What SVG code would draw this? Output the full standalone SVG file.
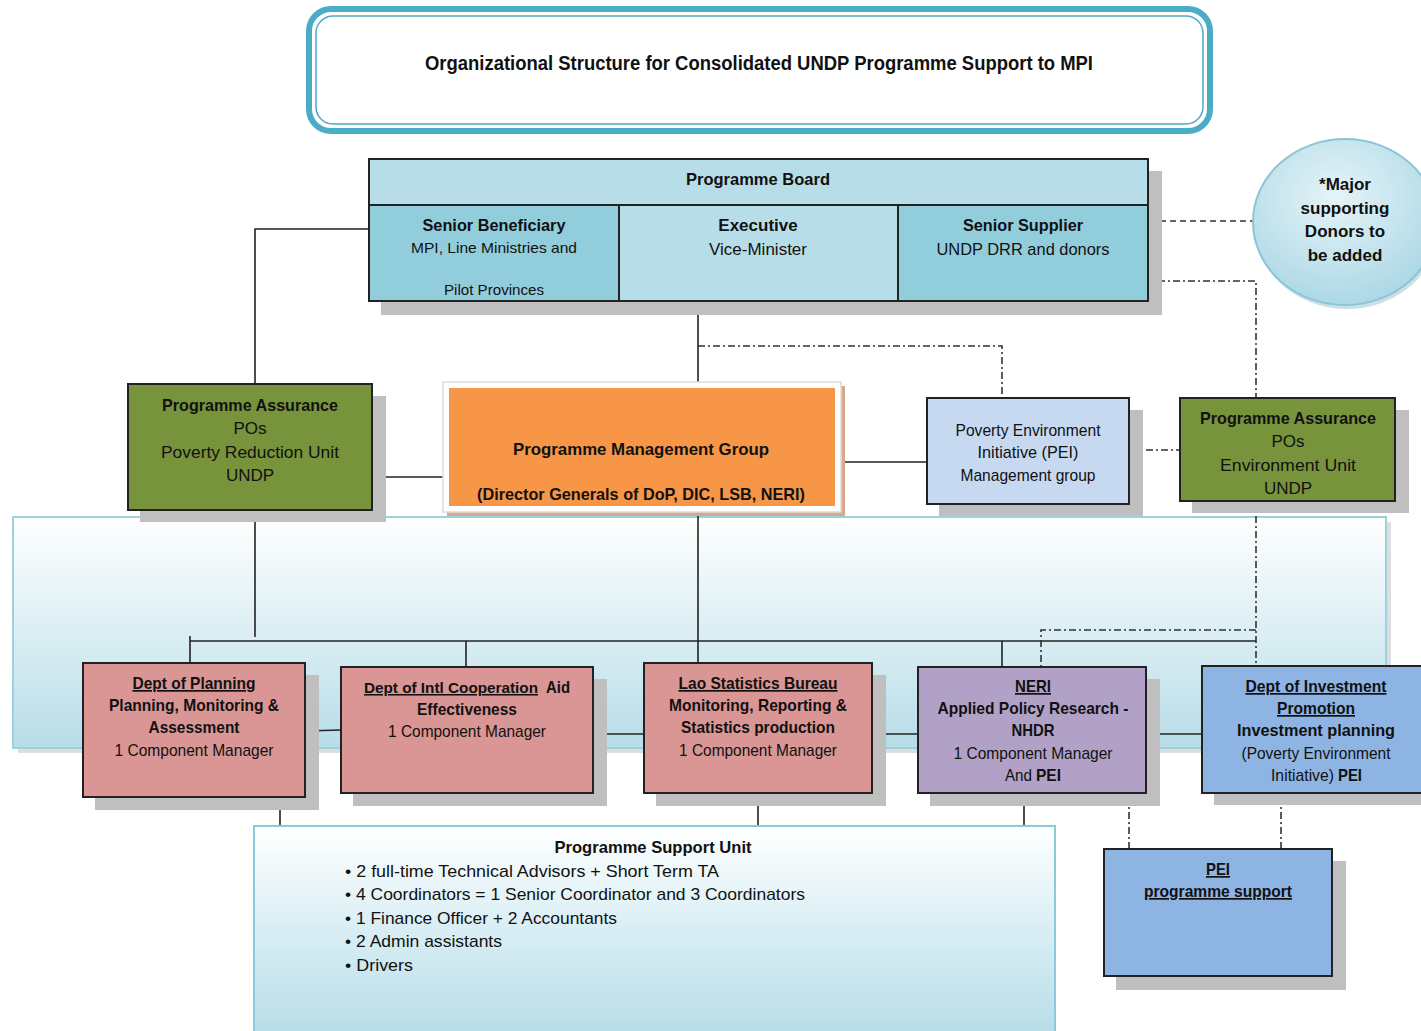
<svg xmlns="http://www.w3.org/2000/svg" width="1421" height="1031" viewBox="0 0 1421 1031">
<defs>
<linearGradient id="panel" x1="0" y1="0" x2="0" y2="1"><stop offset="0" stop-color="#ffffff"/><stop offset="1" stop-color="#b7dde8"/></linearGradient>
<linearGradient id="psu" x1="0" y1="0" x2="0" y2="1"><stop offset="0" stop-color="#ffffff"/><stop offset="0.5" stop-color="#d8eef4"/><stop offset="1" stop-color="#b7dde8"/></linearGradient>
<radialGradient id="circ" cx="0.45" cy="0.35" r="0.7"><stop offset="0" stop-color="#e6f4f8"/><stop offset="1" stop-color="#a8d6e4"/></radialGradient>
<style>
text{font-family:"Liberation Sans Narrow","Liberation Sans",Arial,sans-serif;fill:#111;text-anchor:middle}
.b{font-weight:bold}
.u{text-decoration:underline}
.t16{font-size:16px}
.t17{font-size:17px}
.l{text-anchor:start}
.box{stroke:#222;stroke-width:2}
.sh{fill:#bfbfbf}
.ln{stroke:#222;stroke-width:1.6;fill:none}
.dd{stroke:#333;stroke-width:1.6;fill:none;stroke-dasharray:7 3 2 3}
.ds{stroke:#333;stroke-width:1.6;fill:none;stroke-dasharray:6 4}
</style>
</defs>
<rect width="1421" height="1031" fill="#ffffff"/>

<!-- Background panel -->
<g id="panel-bg">
<rect x="18" y="522" width="1373" height="231" fill="#c8c8c8" opacity="0.6"/>
<rect x="13" y="517" width="1373" height="231" fill="url(#panel)" stroke="#9fd0de" stroke-width="2"/>
</g>

<!-- Title -->
<g id="title">
<rect x="309" y="9" width="901" height="122" rx="22" fill="#ffffff" stroke="#4bacc6" stroke-width="6"/>
<rect x="316" y="16" width="887" height="108" rx="17" fill="none" stroke="#4bacc6" stroke-width="1.5"/>
<text x="759" y="70" class="b" style="font-size:20px" textLength="668" lengthAdjust="spacingAndGlyphs">Organizational Structure for Consolidated UNDP Programme Support to MPI</text>
</g>

<!-- Connectors -->
<g id="connectors">
<polyline class="ln" points="369,229 255,229 255,384"/>
<line class="ln" x1="255" y1="510" x2="255" y2="637"/>
<line class="ln" x1="698" y1="301" x2="698" y2="382"/>
<line class="ln" x1="698" y1="512" x2="698" y2="663"/>
<line class="ln" x1="372" y1="477" x2="443" y2="477"/>
<line class="ln" x1="838" y1="462" x2="927" y2="462"/>
<line class="ln" x1="190" y1="641" x2="1256" y2="641"/>
<line class="ln" x1="190" y1="636" x2="190" y2="663"/>
<line class="ln" x1="466" y1="641" x2="466" y2="667"/>
<line class="ln" x1="1002" y1="641" x2="1002" y2="667"/>
<line class="ln" x1="305" y1="731" x2="341" y2="730"/>
<line class="ln" x1="593" y1="734" x2="644" y2="734"/>
<line class="ln" x1="872" y1="734" x2="918" y2="734"/>
<line class="ln" x1="1146" y1="734" x2="1202" y2="734"/>
<line class="ln" x1="280" y1="797" x2="280" y2="826"/>
<line class="ln" x1="758" y1="793" x2="758" y2="826"/>
<line class="ln" x1="1024" y1="793" x2="1024" y2="826"/>
<polyline class="dd" points="698,346 1002,346 1002,397"/>
<line class="ds" x1="1150" y1="221" x2="1253" y2="221"/>
<polyline class="dd" points="1143,281 1256,281 1256,397"/>
<line class="dd" x1="1256" y1="501" x2="1256" y2="666"/>
<polyline class="dd" points="1256,630 1041,630 1041,667"/>
<line class="dd" x1="1131" y1="450" x2="1180" y2="450"/>
<line class="dd" x1="1129" y1="797" x2="1129" y2="848"/>
<line class="dd" x1="1281" y1="797" x2="1281" y2="848"/>
</g>

<!-- Programme Board -->
<g id="programme-board">
<rect class="sh" x="381" y="171" width="781" height="144"/>
<rect x="369" y="159" width="779" height="46" fill="#b7dee8" class="box"/>
<rect x="369" y="205" width="250" height="96" fill="#92cddc" class="box"/>
<rect x="619" y="205" width="279" height="96" fill="#b7dee8" class="box"/>
<rect x="898" y="205" width="250" height="96" fill="#92cddc" class="box"/>
<text x="758" y="185" class="b t17" textLength="144" lengthAdjust="spacingAndGlyphs">Programme Board</text>
<text x="494" y="231" class="b t17" textLength="143" lengthAdjust="spacingAndGlyphs">Senior Beneficiary</text>
<text x="494" y="253" style="font-size:15px" textLength="166" lengthAdjust="spacingAndGlyphs">MPI, Line Ministries and</text>
<text x="494" y="295" style="font-size:15px" textLength="100" lengthAdjust="spacingAndGlyphs">Pilot Provinces</text>
<text x="758" y="231" class="b t17">Executive</text>
<text x="758" y="255" class="t17">Vice-Minister</text>
<text x="1023" y="231" class="b t17" textLength="120" lengthAdjust="spacingAndGlyphs">Senior Supplier</text>
<text x="1023" y="255" class="t17" textLength="173" lengthAdjust="spacingAndGlyphs">UNDP DRR and donors</text>
</g>

<!-- Donors circle -->
<g id="donors">
<ellipse cx="1347" cy="226" rx="92" ry="83" fill="#a9c9d3" opacity="0.6"/>
<ellipse cx="1345" cy="222" rx="92" ry="83" fill="url(#circ)" stroke="#8cc5d6" stroke-width="2"/>
<text x="1345" y="190" class="b t17">*Major</text>
<text x="1345" y="214" class="b t17">supporting</text>
<text x="1345" y="237" class="b t17">Donors to</text>
<text x="1345" y="261" class="b t17">be added</text>
</g>

<!-- Programme Assurance left -->
<g id="pa-left">
<rect class="sh" x="140" y="396" width="246" height="126"/>
<rect x="128" y="384" width="244" height="126" fill="#77933c" class="box"/>
<text x="250" y="411" class="b t17" textLength="176" lengthAdjust="spacingAndGlyphs">Programme Assurance</text>
<text x="250" y="434" class="t17">POs</text>
<text x="250" y="458" class="t17" textLength="178" lengthAdjust="spacingAndGlyphs">Poverty Reduction Unit</text>
<text x="250" y="481" class="t17">UNDP</text>
</g>

<!-- Programme Management Group -->
<g id="pmg">
<rect x="447" y="386" width="398" height="130" fill="#d8a88c"/>
<rect x="443" y="382" width="398" height="130" fill="#ffffff" stroke="#dddddd" stroke-width="1.5"/>
<rect x="449" y="388" width="386" height="118" fill="#f79646"/>
<text x="641" y="455" class="b t17" textLength="256" lengthAdjust="spacingAndGlyphs">Programme Management Group</text>
<text x="641" y="500" class="b t17" textLength="328" lengthAdjust="spacingAndGlyphs">(Director Generals of DoP, DIC, LSB, NERI)</text>
</g>

<!-- PEI Management group -->
<g id="pei-mgmt">
<rect class="sh" x="939" y="410" width="204" height="106"/>
<rect x="927" y="398" width="202" height="106" fill="#c6d9f1" class="box"/>
<text x="1028" y="436" class="t17" textLength="145" lengthAdjust="spacingAndGlyphs">Poverty Environment</text>
<text x="1028" y="458" class="t17" textLength="101" lengthAdjust="spacingAndGlyphs">Initiative  (PEI)</text>
<text x="1028" y="481" class="t17" textLength="135" lengthAdjust="spacingAndGlyphs">Management group</text>
</g>

<!-- Programme Assurance right -->
<g id="pa-right">
<rect class="sh" x="1192" y="410" width="217" height="103"/>
<rect x="1180" y="398" width="215" height="103" fill="#77933c" class="box"/>
<text x="1288" y="424" class="b t17" textLength="176" lengthAdjust="spacingAndGlyphs">Programme Assurance</text>
<text x="1288" y="447" class="t17">POs</text>
<text x="1288" y="471" class="t17" textLength="136" lengthAdjust="spacingAndGlyphs">Environment Unit</text>
<text x="1288" y="494" class="t17">UNDP</text>
</g>

<!-- Dept of Planning -->
<g id="dept-planning">
<rect class="sh" x="95" y="675" width="224" height="135"/>
<rect x="83" y="663" width="222" height="134" fill="#d99694" class="box"/>
<text x="194" y="689" class="b u t17" textLength="123" lengthAdjust="spacingAndGlyphs">Dept of Planning</text>
<text x="194" y="711" class="b t17" textLength="170" lengthAdjust="spacingAndGlyphs">Planning, Monitoring &amp;</text>
<text x="194" y="733" class="b t17" textLength="91" lengthAdjust="spacingAndGlyphs">Assessment</text>
<text x="194" y="756" class="t17" textLength="159" lengthAdjust="spacingAndGlyphs">1 Component Manager</text>
</g>

<!-- Dept of Intl Cooperation -->
<g id="dept-intl">
<rect class="sh" x="353" y="679" width="254" height="127"/>
<rect x="341" y="667" width="252" height="126" fill="#d99694" class="box"/>
<text x="364" y="693" class="b u l" style="font-size:15.4px" textLength="174" lengthAdjust="spacingAndGlyphs">Dept of Intl Cooperation</text>
<text x="546" y="693" class="b t17 l" textLength="24" lengthAdjust="spacingAndGlyphs">Aid</text>
<text x="467" y="715" class="b t17" textLength="100" lengthAdjust="spacingAndGlyphs">Effectiveness</text>
<text x="467" y="737" class="t17" textLength="158" lengthAdjust="spacingAndGlyphs">1 Component Manager</text>
</g>

<!-- Lao Statistics Bureau -->
<g id="lsb">
<rect class="sh" x="656" y="675" width="230" height="131"/>
<rect x="644" y="663" width="228" height="130" fill="#d99694" class="box"/>
<text x="758" y="689" class="b u t17" textLength="159" lengthAdjust="spacingAndGlyphs">Lao Statistics Bureau</text>
<text x="758" y="711" class="b t17" textLength="178" lengthAdjust="spacingAndGlyphs">Monitoring, Reporting &amp;</text>
<text x="758" y="733" class="b t17" textLength="154" lengthAdjust="spacingAndGlyphs">Statistics production</text>
<text x="758" y="756" class="t17" textLength="158" lengthAdjust="spacingAndGlyphs">1 Component Manager</text>
</g>

<!-- NERI -->
<g id="neri">
<rect class="sh" x="930" y="679" width="230" height="127"/>
<rect x="918" y="667" width="228" height="126" fill="#b2a1c7" class="box"/>
<text x="1033" y="692" class="b u t17" textLength="36" lengthAdjust="spacingAndGlyphs">NERI</text>
<text x="1033" y="714" class="b t17" textLength="191" lengthAdjust="spacingAndGlyphs">Applied Policy Research -</text>
<text x="1033" y="736" class="b t17" textLength="43" lengthAdjust="spacingAndGlyphs">NHDR</text>
<text x="1033" y="759" class="t17" textLength="159" lengthAdjust="spacingAndGlyphs">1 Component Manager</text>
<text x="1005" y="781" class="t17 l" textLength="27" lengthAdjust="spacingAndGlyphs">And</text>
<text x="1036" y="781" class="b t17 l" textLength="25" lengthAdjust="spacingAndGlyphs">PEI</text>
</g>

<!-- Dept of Investment Promotion -->
<g id="dept-investment">
<rect class="sh" x="1214" y="678" width="230" height="127"/>
<rect x="1202" y="666" width="230" height="127" fill="#8eb4e3" class="box"/>
<text x="1316" y="692" class="b u t17" textLength="141" lengthAdjust="spacingAndGlyphs">Dept of Investment</text>
<text x="1316" y="714" class="b u t17" textLength="78" lengthAdjust="spacingAndGlyphs">Promotion</text>
<text x="1316" y="736" class="b t17" textLength="158" lengthAdjust="spacingAndGlyphs">Investment planning</text>
<text x="1316" y="759" class="t17" textLength="149" lengthAdjust="spacingAndGlyphs">(Poverty Environment</text>
<text x="1271" y="781" class="t17 l" textLength="63" lengthAdjust="spacingAndGlyphs">Initiative)</text>
<text x="1338" y="781" class="b t17 l" textLength="24" lengthAdjust="spacingAndGlyphs">PEI</text>
</g>

<!-- Programme Support Unit -->
<g id="psu">
<rect x="254" y="826" width="801" height="210" fill="url(#psu)" stroke="#8ccadb" stroke-width="2"/>
<text x="653" y="853" class="b t17" textLength="197" lengthAdjust="spacingAndGlyphs">Programme Support Unit</text>
<text x="345" y="877" class="t17 l" textLength="374" lengthAdjust="spacingAndGlyphs">• 2 full-time Technical Advisors + Short Term  TA</text>
<text x="345" y="900" class="t17 l" textLength="460" lengthAdjust="spacingAndGlyphs">• 4 Coordinators = 1 Senior Coordinator and 3 Coordinators</text>
<text x="345" y="924" class="t17 l" textLength="272" lengthAdjust="spacingAndGlyphs">• 1 Finance Officer + 2 Accountants</text>
<text x="345" y="947" class="t17 l" textLength="157" lengthAdjust="spacingAndGlyphs">• 2 Admin assistants</text>
<text x="345" y="971" class="t17 l" textLength="68" lengthAdjust="spacingAndGlyphs">• Drivers</text>
</g>

<!-- PEI programme support -->
<g id="pei-support">
<rect class="sh" x="1116" y="861" width="230" height="129"/>
<rect x="1104" y="849" width="228" height="127" fill="#8eb4e3" class="box"/>
<text x="1218" y="875" class="b u t17" textLength="24" lengthAdjust="spacingAndGlyphs">PEI</text>
<text x="1218" y="897" class="b u t17" textLength="148" lengthAdjust="spacingAndGlyphs">programme support</text>
</g>
</svg>
